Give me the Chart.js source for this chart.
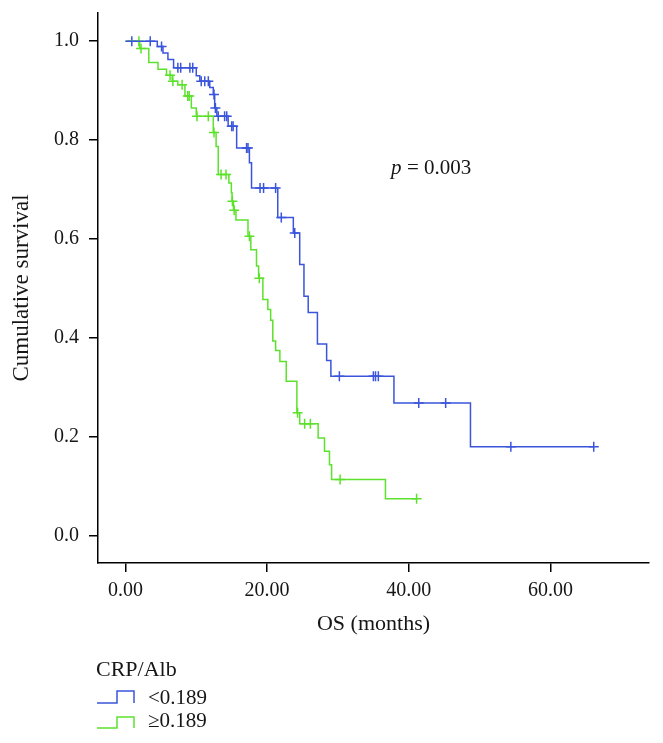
<!DOCTYPE html>
<html>
<head>
<meta charset="utf-8">
<script src="https://cdn.jsdelivr.net/npm/chart.js@4.4.1/dist/chart.umd.min.js"></script>
<style>
  html, body { margin: 0; padding: 0; background: #fff; }
</style>
</head>
<body>
<canvas id="kmChart" width="663" height="743"></canvas>
<script>
// Kaplan-Meier steps: time (months) and survival right after each drop
const blueTimes = [0, 4.5, 5.3, 6.0, 6.8, 10.0, 10.5, 11.9, 12.4, 12.6, 12.9, 14.5, 15.7, 17.5, 17.8, 21.5, 23.7, 24.6, 25.2, 25.8, 27.1, 28.4, 29.0, 37.9, 48.7, 66.1];
const blueSurv = [1.0, 0.989, 0.976, 0.963, 0.946, 0.930, 0.919, 0.906, 0.892, 0.865, 0.848, 0.828, 0.784, 0.754, 0.703, 0.643, 0.612, 0.548, 0.484, 0.451, 0.387, 0.354, 0.322, 0.268, 0.179, 0.179];
const blueCensored = [0.9, 3.5, 5.1, 7.4, 7.8, 9.1, 9.5, 10.7, 11.2, 11.7, 12.5, 12.7, 13.1, 14.0, 14.3, 15.0, 15.2, 17.1, 17.3, 19.0, 19.5, 21.2, 22.0, 23.9, 30.2, 35.0, 35.3, 35.7, 41.4, 45.2, 54.4, 66.1];

const greenTimes = [0, 2.0, 3.3, 4.6, 5.8, 6.6, 7.4, 8.4, 9.3, 10.0, 12.4, 12.8, 13.1, 14.6, 14.95, 15.05, 15.25, 15.6, 17.3, 17.7, 18.5, 18.8, 19.4, 20.1, 20.5, 20.8, 21.2, 21.8, 22.7, 24.2, 24.6, 27.2, 28.1, 28.8, 29.1, 36.7, 41.1];
const greenSurv = [1.0, 0.985, 0.957, 0.943, 0.931, 0.919, 0.912, 0.889, 0.865, 0.848, 0.815, 0.787, 0.730, 0.713, 0.693, 0.676, 0.658, 0.638, 0.605, 0.578, 0.545, 0.520, 0.477, 0.457, 0.435, 0.393, 0.374, 0.352, 0.312, 0.248, 0.226, 0.197, 0.170, 0.143, 0.113, 0.074, 0.074];
const greenCensored = [1.9, 2.2, 6.3, 6.7, 8.0, 8.8, 9.0, 10.1, 11.7, 12.5, 13.5, 14.2, 15.1, 15.35, 17.5, 18.9, 24.3, 25.3, 26.1, 30.3, 41.1];

const groupNames = ['<0.189', '\u22650.189'];
const legendTitle = 'CRP/Alb';
const pText = '= 0.003';
const xTicks = [0, 20, 40, 60];
const yTicks = [0, 0.2, 0.4, 0.6, 0.8, 1.0];

const blueColor = '#3a55dc';
const greenColor = '#5ce22c';
const textColor = '#161616';
const serif = "'Liberation Serif', 'Times New Roman', serif";

function survAt(times, surv, t) {
  let s = surv[0];
  for (let i = 0; i < times.length; i++) {
    if (times[i] <= t) s = surv[i];
  }
  return s;
}

function stepPoints(times, surv) {
  return times.map((t, i) => ({x: t, y: surv[i]}));
}

function censorPoints(times, surv, cens) {
  return cens.map(t => ({x: t, y: survAt(times, surv, t)}));
}

const annotate = {
  id: 'annotate',
  afterDraw(chart) {
    const ctx = chart.ctx;
    ctx.save();
    ctx.fillStyle = textColor;
    ctx.textBaseline = 'middle';
    ctx.font = 'italic 21px ' + serif;
    ctx.fillText('p', 391, 168);
    ctx.font = '21px ' + serif;
    ctx.fillText(pText, 407, 168);

    ctx.font = '22px ' + serif;
    ctx.fillText(legendTitle, 96, 670);
    ctx.font = '21px ' + serif;
    ctx.fillText(groupNames[0], 148, 698);
    ctx.fillText(groupNames[1], 148, 721);

    ctx.lineWidth = 1.5;
    [[blueColor, 703, 691], [greenColor, 728, 717]].forEach(([c, lo, hi]) => {
      ctx.strokeStyle = c;
      ctx.beginPath();
      ctx.moveTo(97, lo);
      ctx.lineTo(117, lo);
      ctx.lineTo(117, hi);
      ctx.lineTo(134, hi);
      ctx.lineTo(134, lo);
      ctx.stroke();
    });
    ctx.restore();
  }
};

new Chart('kmChart', {
  type: 'line',
  data: {
    datasets: [
      {
        data: stepPoints(blueTimes, blueSurv),
        borderColor: blueColor,
        borderWidth: 1.5,
        stepped: 'before',
        pointRadius: 0,
        fill: false
      },
      {
        data: stepPoints(greenTimes, greenSurv),
        borderColor: greenColor,
        borderWidth: 1.5,
        stepped: 'before',
        pointRadius: 0,
        fill: false
      },
      {
        type: 'scatter',
        data: censorPoints(blueTimes, blueSurv, blueCensored),
        pointStyle: 'cross',
        pointRadius: 5,
        borderColor: blueColor,
        pointBorderWidth: 1.5,
        showLine: false
      },
      {
        type: 'scatter',
        data: censorPoints(greenTimes, greenSurv, greenCensored),
        pointStyle: 'cross',
        pointRadius: 5,
        borderColor: greenColor,
        pointBorderWidth: 1.5,
        showLine: false
      }
    ]
  },
  options: {
    responsive: false,
    animation: false,
    layout: { padding: { top: 13, right: 14, left: 0, bottom: 0 } },
    plugins: {
      legend: { display: false },
      tooltip: { enabled: false }
    },
    scales: {
      x: {
        type: 'linear',
        min: -3.87,
        max: 73.9,
        afterFit: (scale) => { scale.height = 180; scale.paddingLeft = 0; scale.paddingRight = 0; },
        afterBuildTicks: (scale) => { scale.ticks = xTicks.map(v => ({value: v})); },
        ticks: {
          color: textColor,
          font: { family: serif, size: 20 },
          padding: 7,
          maxRotation: 0,
          callback: (v) => Number(v).toFixed(2)
        },
        grid: { drawOnChartArea: false, drawTicks: true, tickLength: 9, color: '#000', lineWidth: 1.5 },
        border: { display: true, color: '#000', width: 1.5 },
        title: {
          display: true,
          text: 'OS (months)',
          color: textColor,
          font: { family: serif, size: 22 },
          padding: { top: 0, bottom: 106 }
        }
      },
      y: {
        type: 'linear',
        min: -0.056,
        max: 1.057,
        afterFit: (scale) => { scale.width = 98; scale.paddingTop = 0; scale.paddingBottom = 0; },
        afterBuildTicks: (scale) => { scale.ticks = yTicks.map(v => ({value: v})); },
        ticks: {
          color: textColor,
          font: { family: serif, size: 20 },
          padding: 10,
          callback: (v) => Number(v).toFixed(1)
        },
        grid: { drawOnChartArea: false, drawTicks: true, tickLength: 9, color: '#000', lineWidth: 1.5 },
        border: { display: true, color: '#000', width: 1.5 },
        title: {
          display: true,
          text: 'Cumulative survival',
          color: textColor,
          font: { family: serif, size: 23 },
          padding: { top: 8, bottom: 0 }
        }
      }
    }
  },
  plugins: [annotate]
});
</script>
</body>
</html>
